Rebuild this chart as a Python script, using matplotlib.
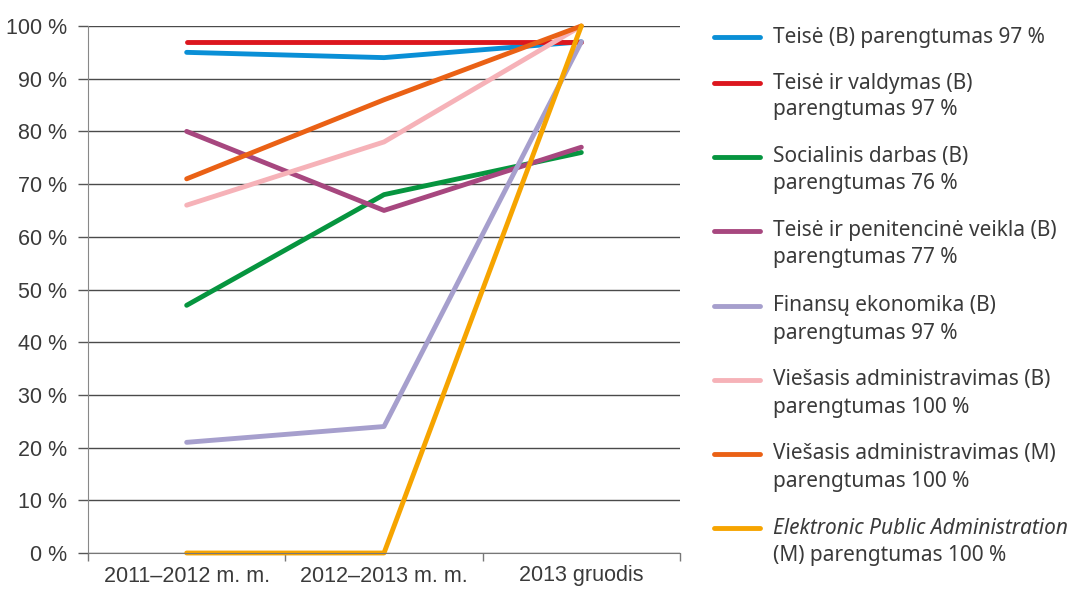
import numpy as np
import matplotlib.pyplot as plt
from matplotlib.lines import Line2D

categories = ["2011–2012 m. m.", "2012–2013 m. m.", "2013 gruodis"]

teise_b = [95, 94, 97]
teise_valdymas = [97, 97, 97]
socialinis = [47, 68, 76]
penitencine = [80, 65, 77]
finansu = [21, 24, 97]
viesasis_b = [66, 78, 100]
viesasis_m = [71, 86, 100]
elektronic = [0, 0, 100]

series = [teise_b, teise_valdymas, socialinis, penitencine,
          finansu, viesasis_b, viesasis_m, elektronic]
colors = ['#0a8fd6', '#dc161e', '#06953f', '#a7477f',
          '#a69fcd', '#f6b2b8', '#ea6115', '#f6a400']
labels = [
    ["Teisė (B) parengtumas 97 %"],
    ["Teisė ir valdymas (B)", "parengtumas 97 %"],
    ["Socialinis darbas (B)", "parengtumas 76 %"],
    ["Teisė ir penitencinė veikla (B)", "parengtumas 77 %"],
    ["Finansų ekonomika (B)", "parengtumas 97 %"],
    ["Viešasis administravimas (B)", "parengtumas 100 %"],
    ["Viešasis administravimas (M)", "parengtumas 100 %"],
    ["Elektronic Public Administration", "(M) parengtumas 100 %"],
]

W, H = 1082, 592
fig = plt.figure(figsize=(W / 100, H / 100), dpi=100)
ax = fig.add_axes([88 / W, 1 - 553 / H, 592 / W, 527 / H])

x = np.arange(len(categories))
for ys, c in zip(series, colors):
    ax.plot(x, ys, color=c, lw=3.5, solid_capstyle='round', clip_on=False)

ax.set_xlim(-0.5, 2.5)
ax.set_ylim(0, 100)
ax.set_yticks(np.arange(0, 101, 10))
ax.set_yticklabels([f"{v} %" for v in range(0, 101, 10)])
ax.set_xticks(x)
ax.set_xticklabels(categories)
ax.set_xticks([-0.5, 0.5, 1.5, 2.5], minor=True)
ax.tick_params(axis='x', which='major', length=0, pad=9, labelsize=15.5, labelcolor='#3a3a3a')
ax.tick_params(axis='x', which='minor', length=6, color='#777777', width=1)
ax.tick_params(axis='y', length=7, color='#555555', width=1, pad=8, labelsize=15.5, labelcolor='#3a3a3a')
for t in ax.get_xticklabels() + ax.get_yticklabels():
    t.set_family('Liberation Sans')
ax.yaxis.grid(True, color='#4a4a4a', lw=1)
ax.set_axisbelow(True)
for s in ['top', 'right']:
    ax.spines[s].set_visible(False)
ax.spines['left'].set_color('#888888')
ax.spines['bottom'].set_color('#777777')

# legenda
ys_px = [37, 83, 157, 231, 306, 380, 454, 528]
for y, c, lab in zip(ys_px, colors, labels):
    fig.add_artist(Line2D([714 / W, 760 / W], [1 - y / H] * 2, color=c, lw=3.5,
                          solid_capstyle='round', transform=fig.transFigure))
    for i, line in enumerate(lab):
        style = 'italic' if (line.startswith('Elektronic')) else 'normal'
        fig.text(773 / W, 1 - (y + i * 27) / H, line, fontsize=15, color='#3a3a3a',
                 family='Noto Sans', style=style, va='center', ha='left')

plt.savefig('out.png', dpi=100)
